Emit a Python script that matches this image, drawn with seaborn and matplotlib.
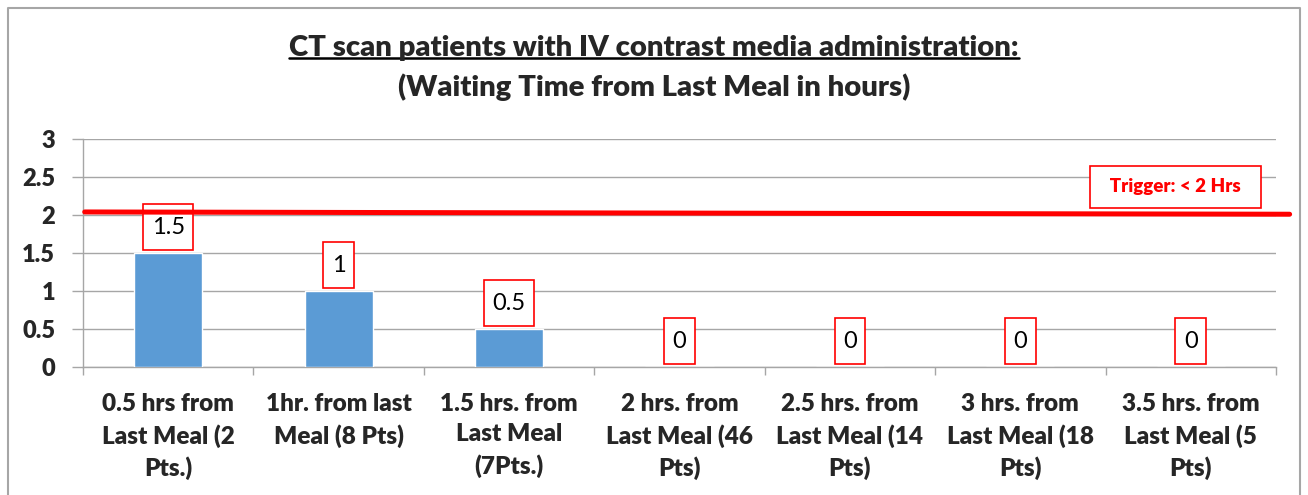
import matplotlib
matplotlib.use("Agg")
import matplotlib.pyplot as plt
import seaborn as sns
import pandas as pd
from matplotlib.lines import Line2D

categories = [
    "0.5 hrs from\nLast Meal (2\nPts.)",
    "1hr. from last\nMeal (8 Pts)",
    "1.5 hrs. from\nLast Meal\n(7Pts.)",
    "2 hrs. from\nLast Meal (46\nPts)",
    "2.5 hrs. from\nLast Meal (14\nPts)",
    "3 hrs. from\nLast Meal (18\nPts)",
    "3.5 hrs. from\nLast Meal (5\nPts)",
]
values = [1.5, 1, 0.5, 0, 0, 0, 0]
value_labels = ["1.5", "1", "0.5", "0", "0", "0", "0"]
trigger_value = 2
trigger_label = "Trigger: < 2 Hrs"
title_line1 = "CT scan patients with IV contrast media administration:"
title_line2 = "(Waiting Time from Last Meal in hours)"
yticks = [0, 0.5, 1, 1.5, 2, 2.5, 3]

sns.set_theme(style="white")
plt.rcParams["font.family"] = ["Lato", "DejaVu Sans"]
W = "heavy"

fig = plt.figure(figsize=(13.08, 4.95), dpi=100)
ax = fig.add_axes([83/1308, 1-367/495, (1276-83)/1308, (367-139)/495])

df = pd.DataFrame({"cat": categories, "val": values})
sns.barplot(data=df, x="cat", y="val", color="#5B9BD5", width=0.4, ax=ax,
            saturation=1, zorder=3)

ax.set_ylim(0, 3)
ax.set_xlim(-0.5, 6.5)
ax.set_yticks(yticks)
ax.set_yticklabels([f"{t:g}" for t in yticks], fontsize=17, fontweight=W)
ax.set_xlabel("")
ax.set_ylabel("")
ax.yaxis.grid(True, color="#A6A6A6", linewidth=1)
ax.set_axisbelow(True)
ax.tick_params(axis="y", length=8, color="#A6A6A6", width=1, pad=12, left=True)
ax.set_xticks(range(len(categories)))
ax.set_xticklabels(categories, fontsize=17.5, fontweight=W, linespacing=1.47)
ax.tick_params(axis="x", length=0, pad=18.5)
ax.set_xticks([i - 0.5 for i in range(len(categories) + 1)], minor=True)
ax.tick_params(axis="x", which="minor", length=6, color="#A6A6A6", width=1, bottom=True)
for s in ["top", "right"]:
    ax.spines[s].set_visible(False)
for s in ["left", "bottom"]:
    ax.spines[s].set_color("#A6A6A6")
    ax.spines[s].set_linewidth(1)

# trigger line (drawn above the label boxes)
ax.plot([-0.49, 6.58], [trigger_value + 0.04, trigger_value + 0.01], color="#FF0000",
        linewidth=3.6, clip_on=False, zorder=6)

# data labels
for i, (v, lab) in enumerate(zip(values, value_labels)):
    ax.annotate(lab, xy=(i, v), xytext=(0, 11), textcoords="offset points",
                ha="center", va="bottom", fontsize=17, color="black",
                bbox=dict(boxstyle="square,pad=0.36", fc="white", ec="#FF0000", lw=1.2,
                          mutation_aspect=1.46),
                zorder=5)

ax.text(5.91, 2.37, "  " + trigger_label + "  ", ha="center", va="center", fontsize=13.5,
        fontweight=W, color="#FF0000",
        bbox=dict(boxstyle="square,pad=0.6", fc="white", ec="#FF0000", lw=1.2,
                  mutation_aspect=1.1), zorder=7)

t1 = fig.text(0.5, 1-48/495, title_line1, ha="center", va="center", fontsize=21.1,
              fontweight=W)
fig.canvas.draw()
bb = t1.get_window_extent().transformed(fig.transFigure.inverted())
fig.add_artist(Line2D([bb.x0, bb.x1], [bb.y0 + 0.006, bb.y0 + 0.006],
                      transform=fig.transFigure, color="black", linewidth=1.8))
fig.text(0.5, 1-87/495, title_line2, ha="center", va="center", fontsize=21.1,
         fontweight=W)

# outer border
fig.add_artist(Line2D([8/1308, 8/1308, 1300/1308, 1300/1308], [0, 1-8/495, 1-8/495, 0],
                      transform=fig.transFigure, color="#A6A6A6", linewidth=1.5))

fig.savefig("out.png", dpi=100)
